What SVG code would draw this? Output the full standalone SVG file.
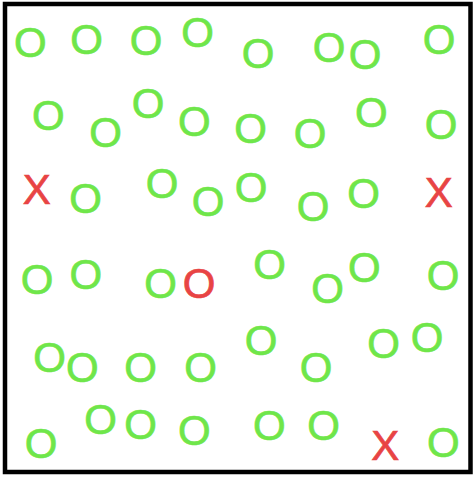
<svg xmlns="http://www.w3.org/2000/svg" width="476" height="478" viewBox="0 0 476 478">
<style>
text{font-family:"Liberation Sans",Arial,sans-serif;font-size:42px;text-anchor:middle;stroke-width:0.7}
.o{fill:#6fe64a;stroke:#6fe64a}
.r{fill:#e84444;stroke:#e84444}
</style>
<rect x="0" y="0" width="476" height="478" fill="#fff"/>
<rect x="5" y="4" width="465.5" height="468" fill="none" stroke="#000" stroke-width="4.5"/>
<g id="row1">
<text class="o" x="30.3" y="57">O</text>
<text class="o" x="86.7" y="54">O</text>
<text class="o" x="146" y="55">O</text>
<text class="o" x="197.5" y="47">O</text>
<text class="o" x="258" y="67.5">O</text>
<text class="o" x="329" y="62">O</text>
<text class="o" x="365" y="68.5">O</text>
<text class="o" x="439" y="54">O</text>
</g>
<g id="row2">
<text class="o" x="48.3" y="129.7">O</text>
<text class="o" x="105.7" y="146.7">O</text>
<text class="o" x="148" y="118.3">O</text>
<text class="o" x="194.3" y="136.3">O</text>
<text class="o" x="250.7" y="142.5">O</text>
<text class="o" x="310" y="147.7">O</text>
<text class="o" x="371.3" y="126.8">O</text>
<text class="o" x="441" y="139.2">O</text>
</g>
<g id="row3">
<text class="r" x="36.7" y="203.8">X</text>
<text class="o" x="85.7" y="212.5">O</text>
<text class="o" x="162" y="197.5">O</text>
<text class="o" x="208" y="215.8">O</text>
<text class="o" x="251" y="201.8">O</text>
<text class="o" x="313" y="220.8">O</text>
<text class="o" x="363.7" y="208.3">O</text>
<text class="r" x="438.7" y="206.7">X</text>
</g>
<g id="row4">
<text class="o" x="37" y="294.2">O</text>
<text class="o" x="85.8" y="289.2">O</text>
<text class="o" x="160.7" y="297.5">O</text>
<text class="r" x="199" y="298">O</text>
<text class="o" x="269.7" y="279.2">O</text>
<text class="o" x="327.7" y="303.3">O</text>
<text class="o" x="364.3" y="282.2">O</text>
<text class="o" x="443" y="289.5">O</text>
</g>
<g id="row5">
<text class="o" x="49.7" y="372.2">O</text>
<text class="o" x="82.3" y="381.5">O</text>
<text class="o" x="140.7" y="382.3">O</text>
<text class="o" x="200.7" y="382.3">O</text>
<text class="o" x="261" y="354.5">O</text>
<text class="o" x="316" y="381.7">O</text>
<text class="o" x="383.7" y="357.5">O</text>
<text class="o" x="427" y="352.2">O</text>
</g>
<g id="row6">
<text class="o" x="41" y="457.5">O</text>
<text class="o" x="100.7" y="433.8">O</text>
<text class="o" x="140.7" y="439">O</text>
<text class="o" x="194.3" y="444.7">O</text>
<text class="o" x="269.3" y="439.8">O</text>
<text class="o" x="323.7" y="439.8">O</text>
<text class="r" x="385.2" y="460.2">X</text>
<text class="o" x="443.3" y="457.2">O</text>
</g>
</svg>
